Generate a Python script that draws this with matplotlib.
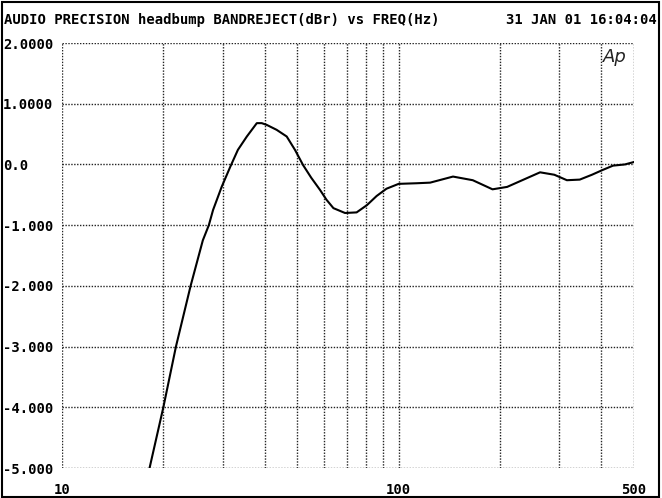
import matplotlib
matplotlib.use("Agg")
import matplotlib.pyplot as plt
from matplotlib.patches import Rectangle

# Data
freq_hz = [18.2, 20, 21.8, 24.1, 26.2, 27.3, 28.1, 29.8, 31.6, 33.3, 35.4, 37.9, 39.2,
           40.6, 43.4, 46.5, 49.2, 52.0, 55.0, 58.4, 61, 64, 69.3, 75, 80.5, 86, 92, 100,
           113, 124, 145, 166, 190, 210, 235, 263, 290, 316, 345, 375, 404, 433,
           470, 500]
level_dbr = [-5.0, -4.0, -3.0, -2.0, -1.25, -1.0, -0.75, -0.37, -0.04, 0.24, 0.46, 0.68, 0.68,
             0.65, 0.57, 0.46, 0.24, -0.01, -0.22, -0.42, -0.58, -0.72, -0.80, -0.79, -0.67, -0.52, -0.40, -0.32,
             -0.31, -0.30, -0.20, -0.26, -0.41, -0.37, -0.25, -0.13, -0.17, -0.26, -0.25, -0.17, -0.09, -0.02,
             0.0, 0.04]

y_ticks = [2, 1, 0, -1, -2, -3, -4, -5]
y_tick_labels = ["2.0000", "1.0000", "0.0", "-1.000", "-2.000", "-3.000", "-4.000", "-5.000"]
x_ticks = [10, 100, 500]
x_tick_labels = ["10", "100", "500"]
x_grid = [20, 30, 40, 50, 60, 70, 80, 90, 100, 200, 300, 400]

title_left = "AUDIO PRECISION headbump BANDREJECT(dBr) vs FREQ(Hz)"
title_right = "31 JAN 01 16:04:04"

W, H = 662, 498
fig = plt.figure(figsize=(W / 100, H / 100), dpi=100)
ax = fig.add_axes([62 / W, 1 - 468 / H, (634 - 62) / W, (468 - 43) / H])

mono = {"family": "DejaVu Sans Mono", "weight": "bold", "size": 10}

ax.set_xscale("log")
ax.set_xlim(10, 500)
ax.set_ylim(-5, 2)

grid_kw = dict(color="#222222", linestyle=(0, (1, 1.1)), linewidth=1.0, zorder=1)
for y in y_ticks:
    ax.axhline(y, **grid_kw)
for x in x_grid + [10, 500]:
    ax.axvline(x, **grid_kw)

for s in ax.spines.values():
    s.set_visible(False)

ax.plot(freq_hz, level_dbr, color="black", linewidth=1.5, zorder=3)

ax.set_yticks(y_ticks)
ax.set_yticklabels(y_tick_labels, fontdict=mono, ha="left")
ax.tick_params(axis="y", length=0, pad=42.5)
ax.set_xticks(x_ticks)
ax.set_xticklabels(x_tick_labels, fontdict=mono)
ax.xaxis.set_minor_locator(matplotlib.ticker.NullLocator())
ax.tick_params(axis="x", length=0, pad=11)

fig.text(4 / W, 1 - 20 / H, title_left, ha="left", va="center", **mono)
fig.text(657 / W, 1 - 20 / H, title_right, ha="right", va="center", **mono)

fig.text(615 / W, 1 - 57 / H, "Ap", ha="center", va="center", fontsize=13,
         style="italic", family="DejaVu Sans", color="#222222")

fig.patches.append(Rectangle((2 / W, 1 / H), 657 / W, 495 / H, transform=fig.transFigure,
                             fill=False, edgecolor="black", linewidth=1.5))

fig.savefig("out.png", dpi=100)
